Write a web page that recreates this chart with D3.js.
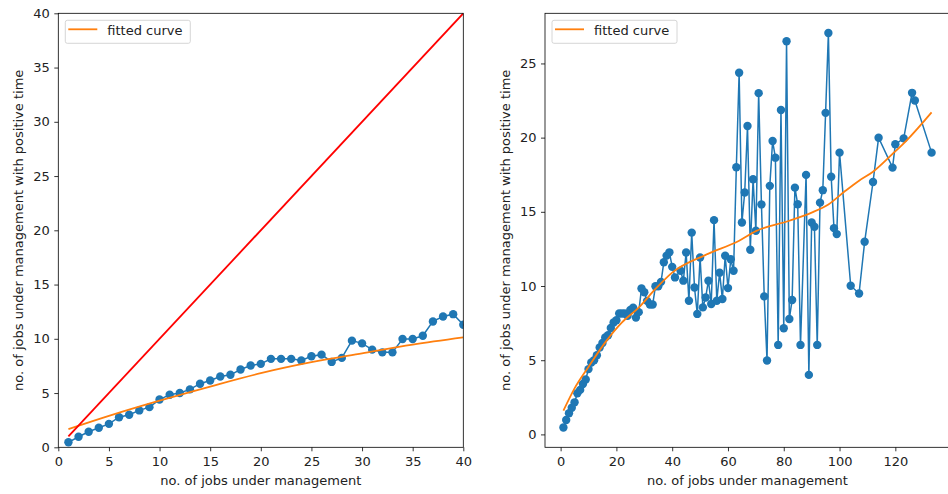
<!DOCTYPE html>
<html>
<head>
<meta charset="utf-8">
<script src="https://d3js.org/d3.v7.min.js"></script>
<style>
  body { margin: 0; background: #fff; }
  svg text { font-family: "DejaVu Sans", sans-serif; font-size: 13px; fill: #222; }
  .tick line { stroke: #000; stroke-width: 0.8; }
</style>
</head>
<body>
<script>
(function() {

    // observed values (same series in both panels)
    var jobs = [1, 2, 3, 4, 5, 6, 7, 8, 9, 10, 11, 12, 13, 14, 15, 16, 17, 18, 19, 20,
        21, 22, 23, 24, 25, 26, 27, 28, 29, 30, 31, 32, 33, 34, 35, 36, 37, 38, 39, 40, 41,
        43, 44, 45, 46, 47, 48, 49, 50, 51, 52, 53, 54, 55, 56, 57, 58, 59, 60, 61, 62,
        63, 64, 65, 66, 67, 68, 69, 70, 71, 72, 73, 74, 75, 76, 77, 78, 79, 80, 81, 82,
        83, 84, 85, 86, 88, 89, 90, 91, 92, 93, 94, 95, 96, 97, 98, 99, 100,
        104, 107, 109, 112, 114, 119, 120, 123, 126, 127, 133];
    var posTime = [0.46, 0.97, 1.43, 1.8, 2.16, 2.77, 3.0, 3.4, 3.7, 4.4, 4.85, 5.0, 5.34, 5.86, 6.16, 6.53, 6.68, 7.17, 7.54, 7.69,
        8.15, 8.15, 8.15, 8.0, 8.39, 8.54, 7.87, 8.24, 9.83, 9.58, 9.0, 8.75, 8.75, 9.98, 9.98, 10.28, 11.6, 12.05, 12.27, 11.29, 10.58,
        11.03, 10.36, 12.26, 9.01, 13.6, 9.9, 8.12, 11.92, 8.56, 9.23, 10.36, 8.79, 14.44, 9.01, 10.9, 9.12, 12.04, 9.86, 11.8, 11.03,
        18.0, 24.37, 14.28, 16.3, 20.78, 12.44, 17.2, 13.72, 23.0, 15.5, 9.3, 4.98, 16.75, 19.77, 18.65, 6.03, 21.86, 7.15, 26.5, 7.78,
        9.06, 16.63, 15.51, 6.03, 17.49, 4.01, 14.28, 13.99, 6.03, 15.62, 16.46, 21.67, 27.05, 17.37, 13.9, 13.5, 18.99,
        10.02, 9.5, 12.98, 17.01, 19.99, 17.98, 19.55, 19.95, 23.02, 22.5, 18.99];

    // fitted curves
    var fitLeftX = [1, 5, 10, 15, 20, 25, 30, 35, 40];
    var fitLeftY = [1.68, 2.9, 4.3, 5.6, 6.83, 7.84, 8.66, 9.46, 10.13];
    var fitRightX = [1, 5, 10, 16, 22, 28, 34, 40, 52, 64, 70, 82, 90, 96, 102, 107, 112, 119, 124, 133];
    var fitRightY = [1.6, 3.1, 4.55, 6.2, 7.55, 8.55, 9.8, 10.9, 12.1, 13.05, 13.7, 14.4, 14.95, 15.5, 16.4, 17.1, 17.7, 18.9, 19.8, 21.7];

    // identity line in the left panel
    var diagX = [1, 40];

    var ticksLeft = [0, 5, 10, 15, 20, 25, 30, 35, 40];
    var ticksRightX = [0, 20, 40, 60, 80, 100, 120];
    var ticksRightY = [0, 5, 10, 15, 20, 25];

    var xLabel = "no. of jobs under management";
    var yLabel = "no. of jobs under management with positive time";
    var legendText = "fitted curve";

    var blue = "#1f77b4", orange = "#ff7f0e";

    var svg = d3.select("body").append("svg")
        .attr("width", 948)
        .attr("height", 494);

    var points = jobs.map(function(d, i) { return [d, posTime[i]]; });

    setPanel({
        id: "left", left: 58.3, top: 13.3, width: 405, height: 434,
        xDomain: [0, 40], yDomain: [0, 40],
        xTicks: ticksLeft, yTicks: ticksLeft, yLabelX: 18,
        fit: fitLeftX.map(function(d, i) { return [d, fitLeftY[i]]; }),
        diag: true
    });

    setPanel({
        id: "right", left: 545, top: 13.3, width: 405, height: 434,
        xDomain: [-5.6, 139.6], yDomain: [-0.87, 28.38],
        xTicks: ticksRightX, yTicks: ticksRightY, yLabelX: 505,
        fit: fitRightX.map(function(d, i) { return [d, fitRightY[i]]; }),
        diag: false
    });

    function setPanel(p) {
        var g = svg.append("g")
            .attr("transform", "translate(" + p.left + "," + p.top + ")");

        var x = d3.scaleLinear().domain(p.xDomain).range([0, p.width]);
        var y = d3.scaleLinear().domain(p.yDomain).range([p.height, 0]);

        g.append("clipPath").attr("id", "clip-" + p.id)
            .append("rect")
            .attr("width", p.width)
            .attr("height", p.height);

        var plot = g.append("g").attr("clip-path", "url(#clip-" + p.id + ")");

        var line = d3.line()
            .x(function(d) { return x(d[0]); })
            .y(function(d) { return y(d[1]); });

        plot.append("path")
            .datum(points)
            .attr("d", line)
            .attr("fill", "none")
            .attr("stroke", blue)
            .attr("stroke-width", 1.5);

        plot.selectAll(".dot")
            .data(points)
            .enter()
            .append("circle")
            .attr("class", "dot")
            .attr("cx", function(d) { return x(d[0]); })
            .attr("cy", function(d) { return y(d[1]); })
            .attr("r", 4.2)
            .attr("fill", blue);

        plot.append("path")
            .datum(p.fit)
            .attr("d", line.curve(d3.curveMonotoneX))
            .attr("fill", "none")
            .attr("stroke", orange)
            .attr("stroke-width", 1.8);

        if (p.diag) {
            plot.append("path")
                .datum(diagX.map(function(d) { return [d, d]; }))
                .attr("d", d3.line()
                    .x(function(d) { return x(d[0]); })
                    .y(function(d) { return y(d[1]); }))
                .attr("fill", "none")
                .attr("stroke", "red")
                .attr("stroke-width", 1.8);
        }

        // axes
        var xAxis = g.append("g")
            .attr("transform", "translate(0," + p.height + ")")
            .call(d3.axisBottom(x).tickValues(p.xTicks).tickSize(4).tickPadding(5).tickFormat(d3.format("d")));
        var yAxis = g.append("g")
            .call(d3.axisLeft(y).tickValues(p.yTicks).tickSize(4).tickPadding(4.5).tickFormat(d3.format("d")));
        [xAxis, yAxis].forEach(function(a) {
            a.select(".domain").remove();
            a.selectAll("text").attr("font-size", 13).attr("font-family", "DejaVu Sans, sans-serif").attr("fill", "#222");
        });

        // frame
        g.append("rect")
            .attr("width", p.width)
            .attr("height", p.height)
            .attr("fill", "none")
            .attr("stroke", "#000")
            .attr("stroke-width", 0.8);

        g.append("text")
            .attr("x", p.width / 2)
            .attr("y", p.height + 38)
            .attr("text-anchor", "middle")
            .text(xLabel);

        svg.append("text")
            .attr("transform", "translate(" + p.yLabelX + "," + (p.top + p.height / 2) + ") rotate(-90)")
            .attr("text-anchor", "middle")
            .attr("dy", "0.35em")
            .text(yLabel);

        // legend
        var lg = g.append("g").attr("transform", "translate(7,7)");
        lg.append("rect")
            .attr("width", 125)
            .attr("height", 23)
            .attr("rx", 2)
            .attr("fill", "#fff")
            .attr("fill-opacity", 0.8)
            .attr("stroke", "#ccc")
            .attr("stroke-width", 0.8);
        lg.append("line")
            .attr("x1", 3).attr("x2", 32)
            .attr("y1", 9).attr("y2", 9)
            .attr("stroke", orange)
            .attr("stroke-width", 1.8);
        lg.append("text")
            .attr("x", 42)
            .attr("y", 14.5)
            .text(legendText);
    };

})();
</script>
</body>
</html>
